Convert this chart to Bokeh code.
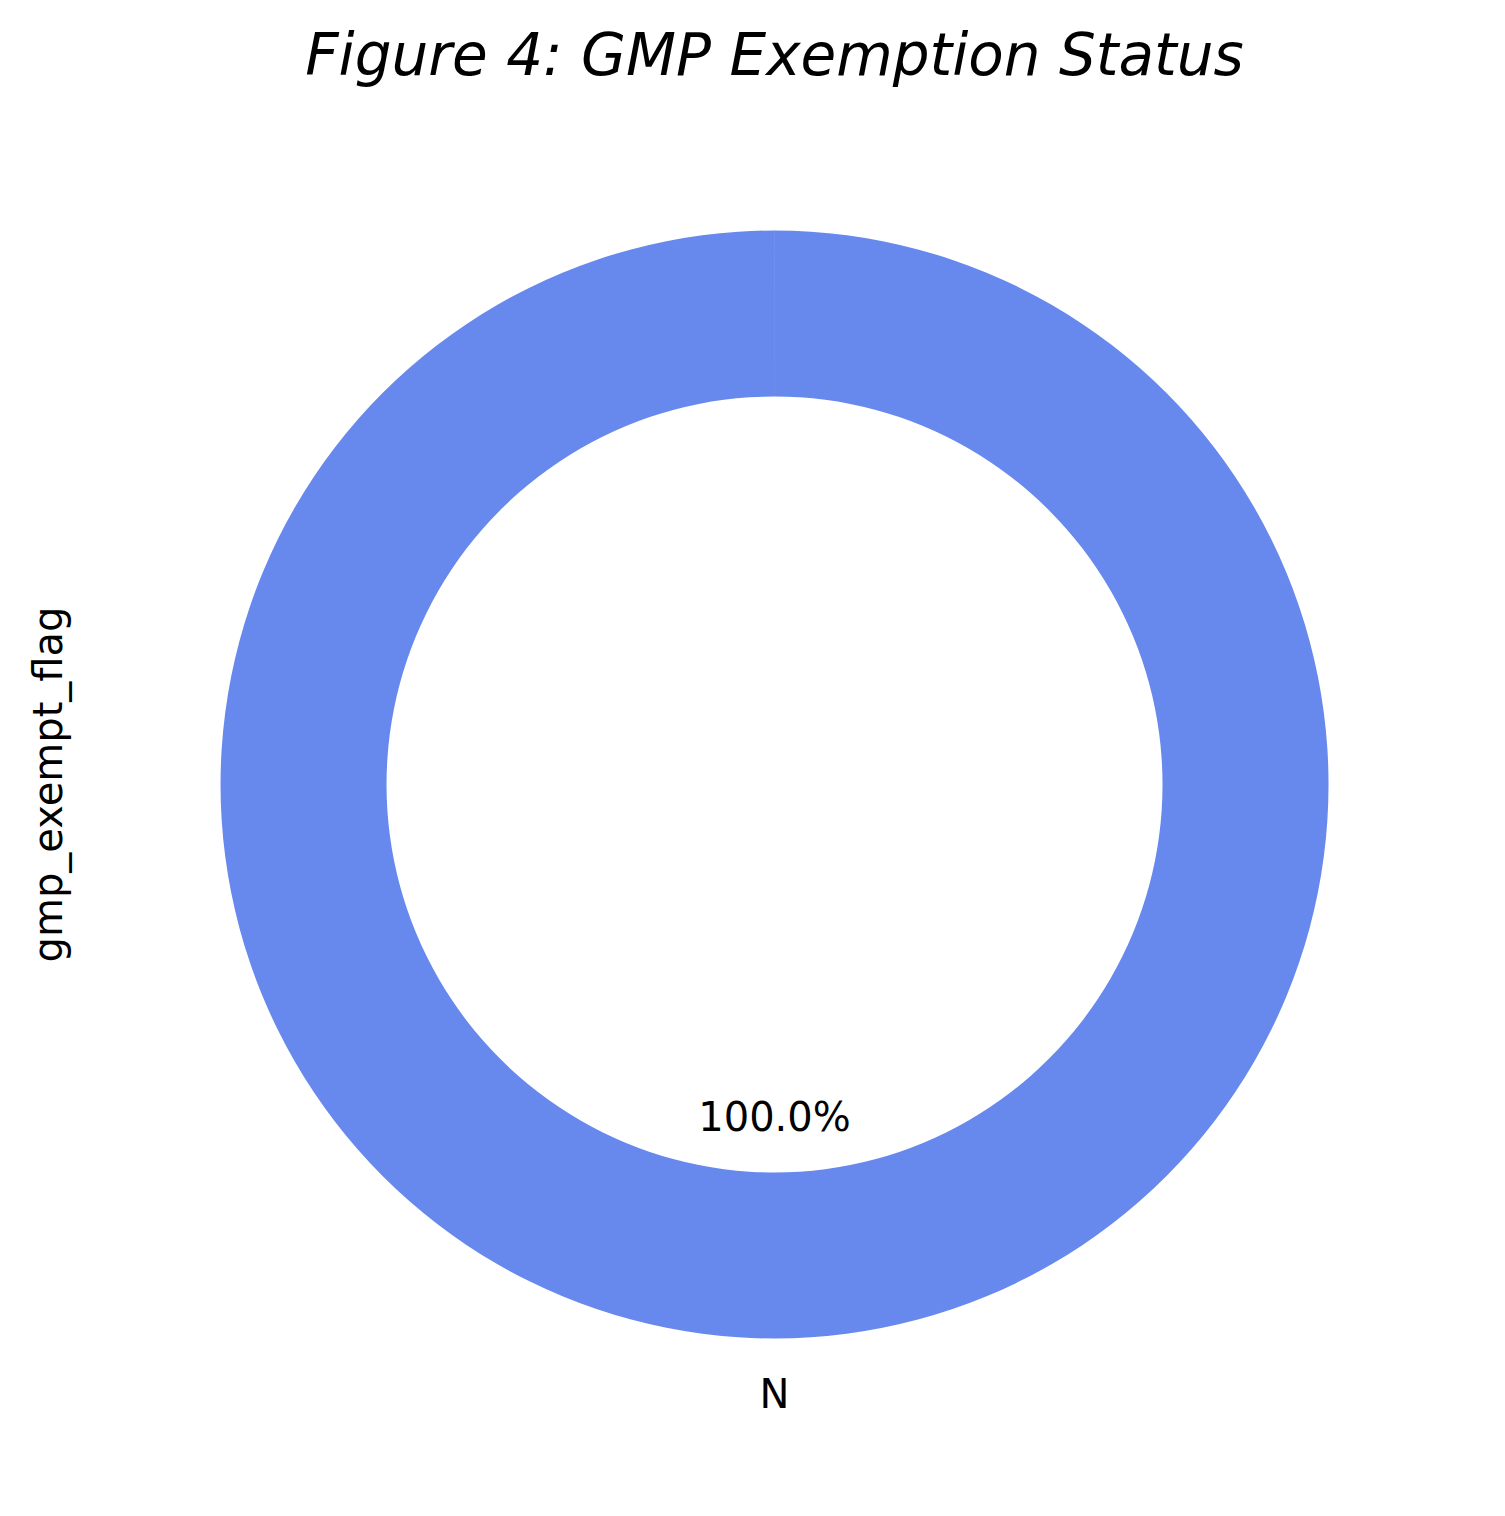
import numpy as np
from bokeh.plotting import figure
from bokeh.models import Range1d, ColumnDataSource
from bokeh.core.properties import value
from bokeh.embed import file_html
from bokeh.resources import INLINE

# data
categories = ["N"]
counts = [100.0]
title_text = "Figure 4: GMP Exemption Status"
ylabel_text = "gmp_exempt_flag"

W, H = 1489, 1500
cx, cy = 774, H - 784
r_out, r_in = 554, 388

fracs = np.array(counts) / sum(counts)
ang = fracs * 2 * np.pi
start = np.pi / 2 + np.concatenate([[0], np.cumsum(ang)[:-1]])
end = start + ang
mid = (start + end) / 2
# a full-circle wedge degenerates, keep a hair short of 2*pi
end_draw = start + np.minimum(ang, 2 * np.pi - 1e-4)

src = ColumnDataSource(dict(cat=categories, start=start, end=end_draw,
                            lx=cx + 1.1 * r_out * np.cos(mid), ly=cy + 1.1 * r_out * np.sin(mid),
                            px=cx + 0.6 * r_out * np.cos(mid), py=cy + 0.6 * r_out * np.sin(mid),
                            pct=["%.1f%%" % (f * 100) for f in fracs]))

p = figure(width=W, height=H, output_backend="svg", toolbar_location=None,
           x_range=Range1d(0, W), y_range=Range1d(0, H), min_border=0)
p.axis.visible = False
p.grid.visible = False
p.outline_line_color = None

p.annular_wedge(x=cx, y=cy, inner_radius=r_in, outer_radius=r_out,
                start_angle="start", end_angle="end", source=src,
                fill_color="#6788ed", line_color=None)

p.text(x="px", y="py", text="pct", source=src, text_font=value("DejaVu Sans"),
       text_font_size="40px", text_align="center", text_baseline="middle", text_color="black")
p.text(x="lx", y="ly", text="cat", source=src, text_font=value("DejaVu Sans"),
       text_font_size="40px", text_align="center", text_baseline="middle", text_color="black")

p.text(x=[cx], y=[H - 54], text=[title_text], text_font=value("DejaVu Sans"),
       text_font_size="58px", text_font_style="italic", text_align="center",
       text_baseline="middle", text_color="black")
p.text(x=[47], y=[cy], text=[ylabel_text], angle=np.pi / 2, text_font=value("DejaVu Sans"),
       text_font_size="40px", text_align="center", text_baseline="middle", text_color="black")

open("out.html", "w").write(file_html(p, INLINE))
